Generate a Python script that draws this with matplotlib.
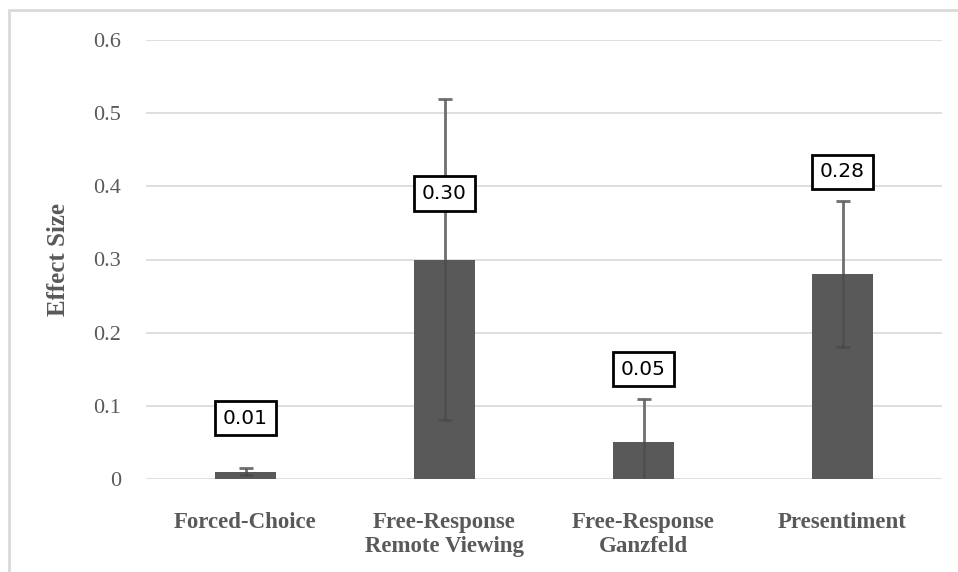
import matplotlib.pyplot as plt
from matplotlib.patches import Rectangle
import numpy as np

# donnees
categories = ['Forced-Choice', 'Free-Response\nRemote Viewing', 'Free-Response\nGanzfeld', 'Presentiment']
effect_size = [0.01, 0.30, 0.05, 0.28]
erreur = [0.005, 0.22, 0.06, 0.10]
etiquettes = ['0.01', '0.30', '0.05', '0.28']
# hauteur des etiquettes (en unites de l'axe)
hauteur_etiquettes = [0.083, 0.39, 0.15, 0.42]

gris = '#595959'
gris_clair = '#d9d9d9'

fig = plt.figure(figsize=(9.58, 5.72), dpi=100)
ax = fig.add_axes([146/958, 1-479/572, (942-146)/958, (479-40)/572])

positions = np.arange(len(categories))
# barres d'erreur derriere les barres, puis une couche legere devant
ax.errorbar(positions, effect_size, yerr=erreur, fmt='none', ecolor='#808080',
            elinewidth=2, capsize=5, capthick=2, zorder=1)
ax.bar(positions, effect_size, 0.31, color=gris, zorder=2)
ax.errorbar(positions, effect_size, yerr=erreur, fmt='none', ecolor='black', alpha=0.12,
            elinewidth=2, capsize=5, capthick=2, zorder=3)

for x, y, txt in zip(positions, hauteur_etiquettes, etiquettes):
    ax.text(x, y, txt, ha='center', va='center', fontsize=14.5, family='DejaVu Sans',
            color='black', zorder=4,
            bbox=dict(boxstyle='square,pad=0.38', facecolor='white', edgecolor='black', linewidth=2))

ax.set_xlim(-0.5, 3.5)
ax.set_ylim(0, 0.6)
ax.set_yticks(np.arange(0, 0.61, 0.1))
ax.set_yticklabels(['0', '0.1', '0.2', '0.3', '0.4', '0.5', '0.6'])
ax.yaxis.grid(True, color=gris_clair, linewidth=1.2, zorder=0)
ax.set_axisbelow(True)
for s in ax.spines.values():
    s.set_visible(False)
ax.tick_params(axis='both', length=0)
ax.tick_params(axis='y', pad=25, labelsize=16, labelcolor=gris)
for lab in ax.get_yticklabels():
    lab.set_family('Liberation Serif')
ax.tick_params(axis='y', pad=18)

ax.set_xticks(positions)
ax.set_xticklabels(categories, family='Liberation Serif', fontweight='bold',
                   fontsize=16.5, color=gris, linespacing=1.15)
ax.tick_params(axis='x', pad=24)

ax.set_ylabel('Effect Size', family='Liberation Serif', fontweight='bold',
              fontsize=18, color=gris)
ax.yaxis.set_label_coords((70 - 146) / 796, 0.5)

# cadre du graphique
fig.patches.append(Rectangle((9/958, -0.1), 2.0, 1.1 - 10/572, transform=fig.transFigure,
                             fill=False, edgecolor=gris_clair, linewidth=2))

plt.savefig('out.png', dpi=100)
